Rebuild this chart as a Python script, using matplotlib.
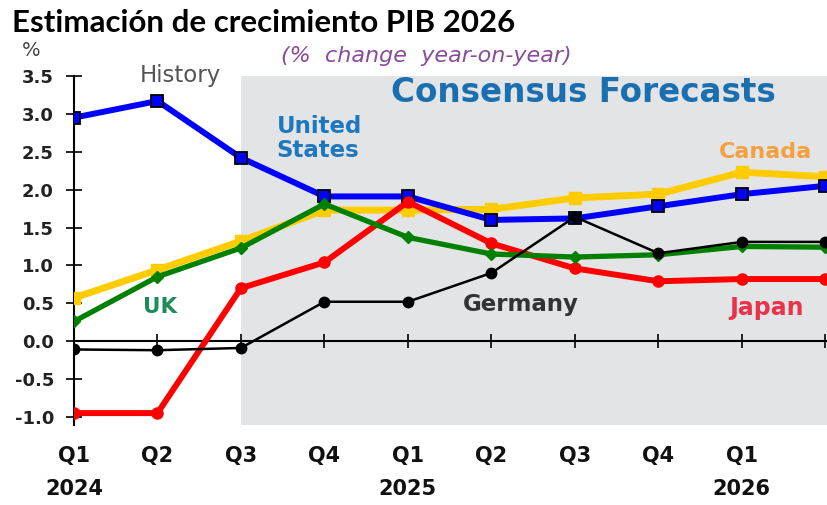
import matplotlib

matplotlib.use("Agg", force=True)
import matplotlib.pyplot as plt

# data (% change year-on-year)
quarters = ["Q1", "Q2", "Q3", "Q4", "Q1", "Q2", "Q3", "Q4", "Q1", ""]
years = {0: "2024", 4: "2025", 8: "2026"}
united_states = [2.95, 3.17, 2.42, 1.91, 1.91, 1.60, 1.62, 1.78, 1.94, 2.05]
canada = [0.57, 0.94, 1.32, 1.73, 1.73, 1.74, 1.89, 1.94, 2.23, 2.17]
uk = [0.26, 0.85, 1.23, 1.81, 1.37, 1.15, 1.11, 1.14, 1.25, 1.24]
japan = [-0.95, -0.95, 0.70, 1.04, 1.84, 1.29, 0.96, 0.79, 0.82, 0.82]
germany = [-0.11, -0.12, -0.09, 0.52, 0.52, 0.90, 1.64, 1.16, 1.31, 1.31]
forecast_start = 2
y_ticks = [3.5, 3.0, 2.5, 2.0, 1.5, 1.0, 0.5, 0.0, -0.5, -1.0]

plt.rcParams["font.family"] = ["DejaVu Sans"]

fig = plt.figure(figsize=(8.27, 5.05), dpi=100)
ax = fig.add_axes([0.0895, 0.158, 0.9105, 0.6915])
x = list(range(len(quarters)))

ax.set_xlim(0, 9.02)
ax.set_ylim(-1.11, 3.5)
ax.axvspan(forecast_start, 9.02, color="#e3e4e6", lw=0, zorder=0)

ax.plot(x, canada, color="#ffcc00", lw=5, marker="s", ms=9, mec="#ffcc00", zorder=3)
ax.plot(x, united_states, color="#0000ff", lw=4.3, marker="s", ms=8.5,
        mfc="#0000ff", mec="black", mew=1.3, zorder=4)
ax.plot(x, japan, color="#ff0000", lw=4.3, marker="o", ms=8, zorder=5)
ax.plot(x, uk, color="#008000", lw=3.8, marker="D", ms=6.5, zorder=6)
ax.plot(x, germany, color="black", lw=1.8, marker="o", ms=7.5, zorder=7)

for side in ("top", "right"):
    ax.spines[side].set_visible(False)
ax.spines["bottom"].set_position(("data", 0))
ax.spines["left"].set_position(("data", 0))
for side in ("left", "bottom"):
    ax.spines[side].set_linewidth(1.5)
    ax.spines[side].set_zorder(2)

ax.set_yticks(y_ticks)
ax.set_yticklabels([f"{v:.1f}" for v in y_ticks])
ax.tick_params(axis="y", direction="inout", length=11, width=1.2, pad=9,
               labelsize=13, labelcolor="#222222")
for lab in ax.get_yticklabels():
    lab.set_fontweight("bold")
ax.set_xticks(x)
ax.set_xticklabels([])
ax.tick_params(axis="x", direction="inout", length=9.5, width=1.2)

for i, q in enumerate(quarters):
    ax.text(i, -1.51, q, ha="center", va="center", fontsize=15,
            fontweight="bold", color="#111111", clip_on=False)
for i, yr in years.items():
    ax.text(i, -1.95, yr, ha="center", va="center", fontsize=15,
            fontweight="bold", color="#111111", clip_on=False)

ax.text(1.27, 3.42, "History", ha="center", va="baseline", fontsize=16.5,
        color="#555555", clip_on=False)
ax.text(4.22, 3.76, "(%  change  year-on-year)", ha="center", va="center",
        fontsize=16, style="italic", color="#8a4b9a", clip_on=False)
ax.text(6.1, 3.28, "Consensus Forecasts", ha="center", va="center",
        fontsize=23.5, fontweight="bold", color="#1a6fb0")
ax.text(2.43, 2.67, "United\nStates", ha="left", va="center", fontsize=16.5,
        fontweight="bold", color="#1e78c0", linespacing=1.05)
ax.text(8.28, 2.50, "Canada", ha="center", va="center", fontsize=16,
        fontweight="bold", color="#f5a040")
ax.text(1.03, 0.45, "UK", ha="center", va="center", fontsize=15.5,
        fontweight="bold", color="#1e8c5a")
ax.text(5.35, 0.48, "Germany", ha="center", va="center", fontsize=16.5,
        fontweight="bold", color="#333333")
ax.text(8.3, 0.44, "Japan", ha="center", va="center", fontsize=17,
        fontweight="bold", color="#e8334a")

fig.text(31 / 827, 1 - 51 / 505, "%", ha="center", va="center", fontsize=14,
         color="#444444")
fig.text(12 / 827, 1 - 32 / 505, "Estimación de crecimiento PIB 2026",
         ha="left", va="baseline", fontsize=22.5, fontweight="bold",
         family=["Lato", "DejaVu Sans"], color="black")

fig.savefig("out.png", dpi=100)
